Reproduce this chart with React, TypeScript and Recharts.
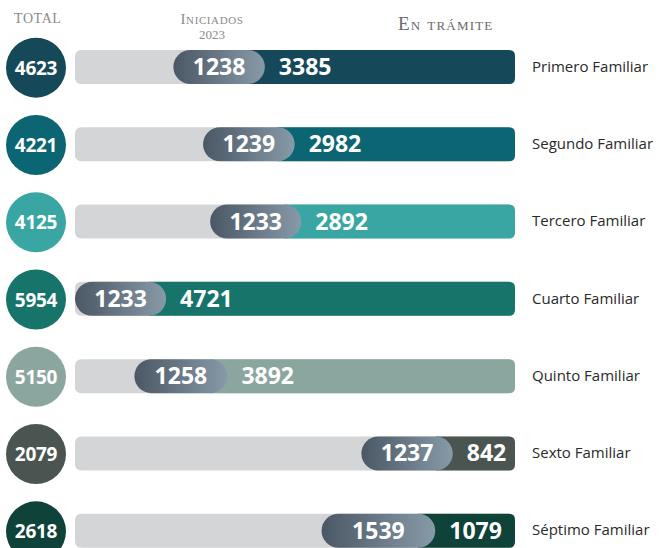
import React from 'react';
import { BarChart, Bar, XAxis, YAxis, LabelList } from 'recharts';

// datos por juzgado
const juzgados = [
  'Primero Familiar',
  'Segundo Familiar',
  'Tercero Familiar',
  'Cuarto Familiar',
  'Quinto Familiar',
  'Sexto Familiar',
  'Séptimo Familiar',
];
const totales = [4623, 4221, 4125, 5954, 5150, 2079, 2618];
const iniciados = [1238, 1239, 1233, 1233, 1258, 1237, 1539];
const enTramite = [3385, 2982, 2892, 4721, 3892, 842, 1079];

const colores = ['#15495a', '#0b6572', '#3aa6a3', '#16746a', '#8ba69f', '#4a5551', '#0f4239'];

const data = juzgados.map((j, i) => ({
  juzgado: j,
  total: totales[i],
  iniciados: iniciados[i],
  enTramite: enTramite[i],
}));

const NUM_FONT = '"Open Sans", sans-serif';

const span = (x: number, w: number) => {
  const a = Math.min(x, x + w);
  const b = Math.max(x, x + w);
  return [a, b];
};

// en trámite: se extiende por debajo del extremo redondeado de la píldora
const TramiteShape = (props: any) => {
  const { x, y, width, height, index } = props;
  const [a0, b] = span(x, width);
  const a = a0 - height / 2;
  const r = 6;
  const d = `M${a},${y} H${b - r} Q${b},${y} ${b},${y + r} V${y + height - r} Q${b},${y + height} ${b - r},${y + height} H${a} Z`;
  return <path d={d} fill={colores[index]} />;
};

const IniciadosShape = (props: any) => {
  const { x, y, width, height } = props;
  const [a, b] = span(x, width);
  return (
    <rect
      x={a}
      y={y}
      width={b - a}
      height={height}
      rx={height / 2}
      ry={height / 2}
      fill="url(#iniGrad)"
    />
  );
};

const IniciadosLabel = (props: any) => {
  const { x, y, width, height, value } = props;
  const [a, b] = span(x, width);
  return (
    <text
      x={(a + b) / 2}
      y={y + height / 2}
      dy={8}
      textAnchor="middle"
      fill="#fff"
      fontSize={23}
      fontWeight={700}
      fontFamily={NUM_FONT}
    >
      {value}
    </text>
  );
};

const TramiteLabel = (props: any) => {
  const { x, y, width, height, value } = props;
  const [a] = span(x, width);
  return (
    <text
      x={a + 14}
      y={y + height / 2}
      dy={8}
      fill="#fff"
      fontSize={23}
      fontWeight={700}
      fontFamily={NUM_FONT}
    >
      {value}
    </text>
  );
};

const TotalTick = (props: any) => {
  const { x, y, payload, index } = props;
  return (
    <g>
      <ellipse cx={x - 31} cy={y + 1} rx={30} ry={30} fill={colores[index]} />
      <text
        x={x - 31}
        y={y + 1}
        dy={7}
        textAnchor="middle"
        fill="#fff"
        fontSize={19}
        fontWeight={700}
        fontFamily={NUM_FONT}
        letterSpacing={-0.3}
      >
        {payload.value}
      </text>
    </g>
  );
};

const NombreTick = (props: any) => {
  const { x, y, payload } = props;
  return (
    <text x={x + 9} y={y} dy={5} fill="#2a2a2a" fontSize={15} fontFamily={NUM_FONT}>
      {payload.value}
    </text>
  );
};

const headStyle: React.CSSProperties = {
  position: 'absolute',
  fontFamily: '"Liberation Serif", serif',
  fontVariant: 'small-caps',
  color: '#8a8a8a',
  lineHeight: 1,
  whiteSpace: 'nowrap',
};

export default function App() {
  return (
    <div style={{ position: 'absolute', left: 0, top: 0, width: 664, height: 548, overflow: 'hidden', background: '#fff' }}>
      <div style={{ ...headStyle, left: 14, top: 12, fontSize: 14, letterSpacing: 0.6 }}>TOTAL</div>
      <div style={{ ...headStyle, left: 162, top: 12, fontSize: 15, textAlign: 'center', width: 100, letterSpacing: 0.6 }}>
        Iniciados
        <div style={{ fontVariant: 'normal', fontSize: 13, marginTop: 1, letterSpacing: 0 }}>2023</div>
      </div>
      <div style={{ ...headStyle, left: 398, top: 14, fontSize: 19, color: '#6a6a6a', letterSpacing: 1.2 }}>En trámite</div>
      <BarChart
        width={664}
        height={569}
        data={data}
        layout="vertical"
        margin={{ top: 28, right: 0, bottom: 0, left: 0 }}
        barSize={34}
      >
        <defs>
          <linearGradient id="iniGrad" x1="0" y1="0" x2="1" y2="0">
            <stop offset="0%" stopColor="#4b5765" />
            <stop offset="100%" stopColor="#879aa8" />
          </linearGradient>
        </defs>
        <XAxis type="number" hide domain={[0, 'dataMax']} reversed />
        <YAxis
          yAxisId="nombre"
          type="category"
          dataKey="juzgado"
          orientation="right"
          width={149}
          axisLine={false}
          tickLine={false}
          tick={<NombreTick />}
        />
        <YAxis
          yAxisId="total"
          type="category"
          dataKey="total"
          orientation="left"
          width={75}
          axisLine={false}
          tickLine={false}
          tick={<TotalTick />}
        />
        <Bar
          yAxisId="nombre"
          dataKey="enTramite"
          stackId="a"
          shape={<TramiteShape />}
          background={{ fill: '#d4d5d7', radius: 6 }}
          isAnimationActive={false}
        >
          <LabelList dataKey="enTramite" content={<TramiteLabel />} />
        </Bar>
        <Bar
          yAxisId="nombre"
          dataKey="iniciados"
          stackId="a"
          shape={<IniciadosShape />}
          isAnimationActive={false}
        >
          <LabelList dataKey="iniciados" content={<IniciadosLabel />} />
        </Bar>
      </BarChart>
    </div>
  );
}
